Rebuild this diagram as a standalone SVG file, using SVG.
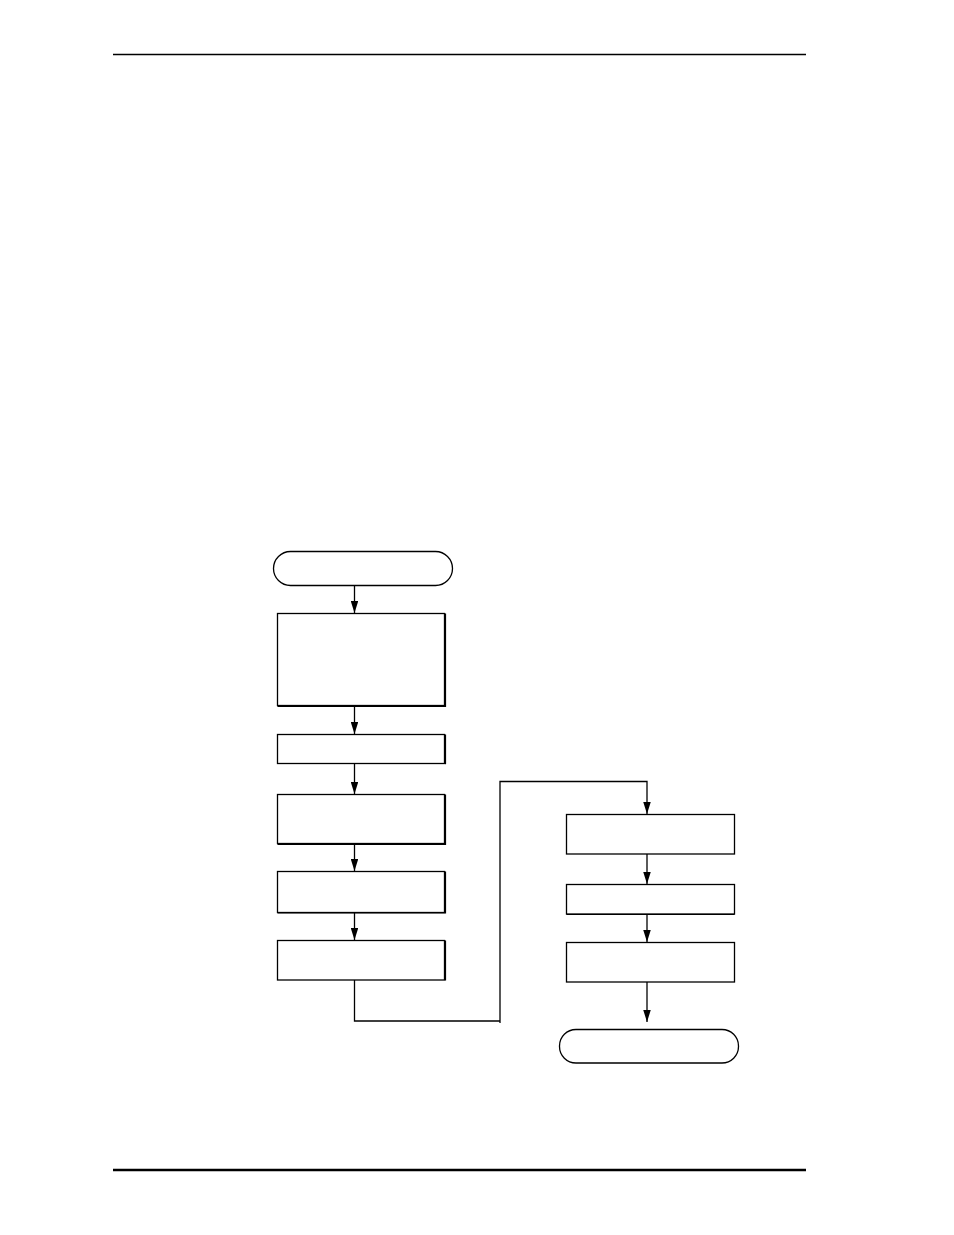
<svg xmlns="http://www.w3.org/2000/svg" width="954" height="1235" viewBox="0 0 954 1235">
<style>
.n{fill:#fff;stroke:#000;stroke-width:1.3}
.sh{fill:none;stroke:#000;stroke-width:1.2}
.c{fill:none;stroke:#000;stroke-width:1.3}
.rule{stroke:#000}
</style>
<defs>
<marker id="ah" viewBox="0 0 12 7.5" refX="12" refY="3.75" markerWidth="12" markerHeight="7.5" markerUnits="userSpaceOnUse" orient="auto">
<path d="M0,0 L12,3.75 L0,7.5 Z" fill="#000"/>
</marker>
</defs>
<rect width="954" height="1235" fill="#fff"/>
<line class="rule" x1="113" y1="54.5" x2="806" y2="54.5" stroke-width="1.3"/>
<line class="rule" x1="113" y1="1170" x2="806" y2="1170" stroke-width="2.4"/>
<g id="start"><rect class="n" x="273.5" y="551.5" width="179" height="34" rx="17" ry="17"/></g>
<g id="box1"><rect class="n" x="277.5" y="613.5" width="167" height="92"/><path class="sh" d="M445.5,613.5 V706.5 H277.5"/></g>
<g id="box2"><rect class="n" x="277.5" y="734.5" width="167" height="29"/><path class="sh" d="M445.5,734.5 V764.2"/></g>
<g id="box3"><rect class="n" x="277.5" y="794.5" width="167" height="49"/><path class="sh" d="M445.5,794.5 V844.5 H277.5"/></g>
<g id="box4"><rect class="n" x="277.5" y="871.5" width="167" height="41"/><path class="sh" d="M445.5,871.5 V913 H277.5"/></g>
<g id="box5"><rect class="n" x="277.5" y="940.5" width="167" height="39.5"/><path class="sh" d="M445.5,940.5 V980.5"/></g>
<g id="box6"><rect class="n" x="566.5" y="814.5" width="168" height="39.5"/></g>
<g id="box7"><rect class="n" x="566.5" y="884.5" width="168" height="29.5"/><path class="sh" d="M566.5,914.5 H734.5"/></g>
<g id="box8"><rect class="n" x="566.5" y="942.5" width="168" height="39.5"/></g>
<g id="end"><rect class="n" x="559.5" y="1029.5" width="179" height="33.5" rx="16.5" ry="16.5"/></g>
<g id="connectors">
<line class="c" x1="354.5" y1="586" x2="354.5" y2="613" marker-end="url(#ah)"/>
<line class="c" x1="354.5" y1="706.5" x2="354.5" y2="734" marker-end="url(#ah)"/>
<line class="c" x1="354.5" y1="764" x2="354.5" y2="794" marker-end="url(#ah)"/>
<line class="c" x1="354.5" y1="844.5" x2="354.5" y2="871" marker-end="url(#ah)"/>
<line class="c" x1="354.5" y1="913" x2="354.5" y2="940" marker-end="url(#ah)"/>
<path class="c" d="M354.5,980 V1021 H500 M500,1023 V781.5 H647 V814" marker-end="url(#ah)"/>
<line class="c" x1="647" y1="854" x2="647" y2="884" marker-end="url(#ah)"/>
<line class="c" x1="647" y1="914.5" x2="647" y2="942" marker-end="url(#ah)"/>
<line class="c" x1="647" y1="982" x2="647" y2="1022" marker-end="url(#ah)"/>
</g>
</svg>
